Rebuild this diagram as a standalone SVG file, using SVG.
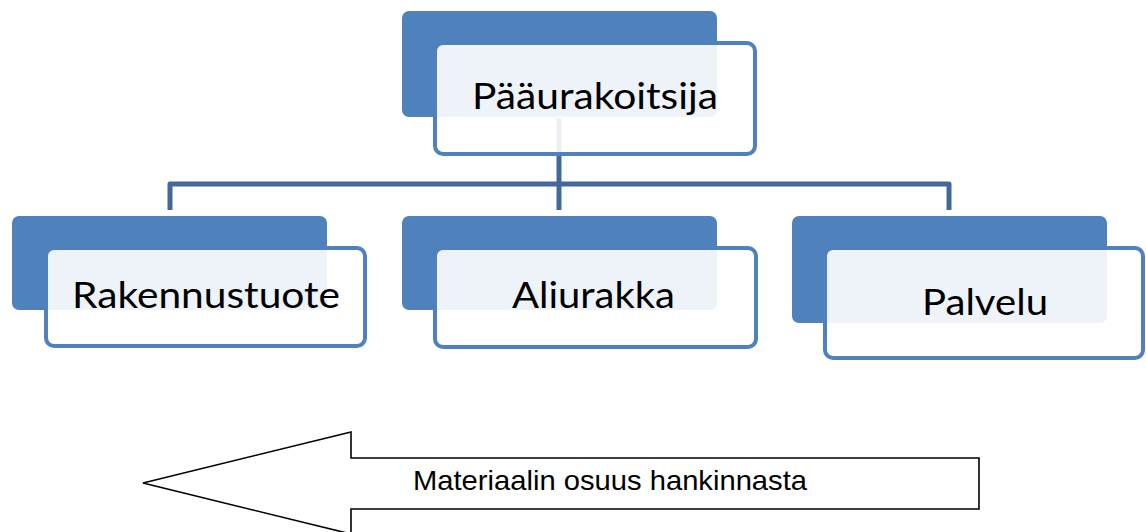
<svg xmlns="http://www.w3.org/2000/svg" width="1146" height="532" viewBox="0 0 1146 532">
<style>
.back{fill:#4F81BD;}
.front{fill:#FFFFFF;fill-opacity:0.9;stroke:#4F81BD;stroke-width:4;}
.lbl{font-family:Lato,"Open Sans","Noto Sans",sans-serif;font-size:37px;fill:#000000;}
.conn{fill:none;stroke:#43699A;stroke-width:5;stroke-linejoin:round;}
.arrow{fill:#FFFFFF;stroke:#000000;stroke-width:1.6;}
.atext{font-family:"Liberation Sans",Arial,sans-serif;font-size:28px;fill:#000000;}
</style>
<rect width="1146" height="532" fill="#FFFFFF"/>
<g id="connectors">
<path class="conn" d="M559,118 V210"/>
<path class="conn" d="M170,210 V184 H949 V210"/>
</g>
<g id="node-paaurakoitsija">
<rect class="back" x="402" y="11" width="315" height="106" rx="7"/>
<rect class="front" x="435" y="43" width="320" height="111" rx="8"/>
<text class="lbl" x="472" y="109" textLength="246" lengthAdjust="spacingAndGlyphs">Pääurakoitsija</text>
</g>
<g id="node-rakennustuote">
<rect class="back" x="12" y="216" width="315" height="94" rx="7"/>
<rect class="front" x="46" y="248" width="319" height="98" rx="8"/>
<text class="lbl" x="72" y="308" textLength="268" lengthAdjust="spacingAndGlyphs">Rakennustuote</text>
</g>
<g id="node-aliurakka">
<rect class="back" x="402" y="216" width="315" height="94" rx="7"/>
<rect class="front" x="435" y="248" width="321" height="99" rx="8"/>
<text class="lbl" x="512" y="308" textLength="163" lengthAdjust="spacingAndGlyphs">Aliurakka</text>
</g>
<g id="node-palvelu">
<rect class="back" x="792" y="216" width="315" height="107" rx="7"/>
<rect class="front" x="825" y="248" width="318" height="110" rx="8"/>
<text class="lbl" x="922" y="315" textLength="126" lengthAdjust="spacingAndGlyphs">Palvelu</text>
</g>
<g id="arrow">
<polygon class="arrow" points="143,483 351,432 351,458 979,458 979,509 351,509 351,534"/>
<text class="atext" x="413" y="490" textLength="394" lengthAdjust="spacingAndGlyphs">Materiaalin osuus hankinnasta</text>
</g>
</svg>
